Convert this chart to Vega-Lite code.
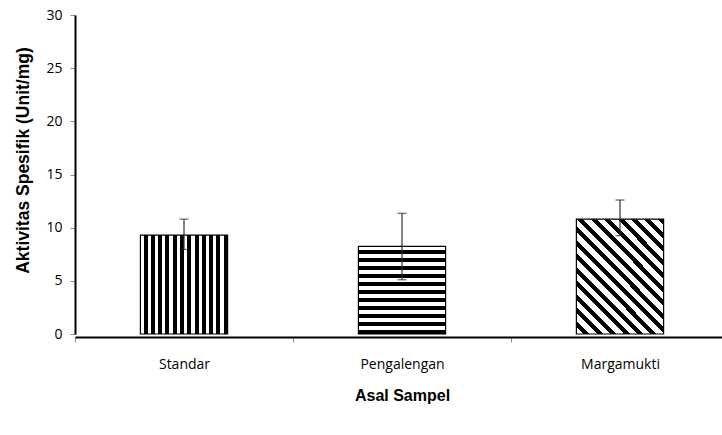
{
  "$schema": "https://vega.github.io/schema/vega-lite/v6.json",
  "width": 647,
  "height": 319,
  "autosize": "none",
  "padding": {"left": 75, "top": 15, "right": 0, "bottom": 101},
  "background": "white",
  "config": {"view": {"stroke": null}},
  "data": {
    "values": [
      {"Asal": "Standar", "mean": 9.3, "low": 7.95, "high": 10.8},
      {"Asal": "Pengalengan", "mean": 8.25, "low": 5.1, "high": 11.35},
      {"Asal": "Margamukti", "mean": 10.8, "low": 9.25, "high": 12.6}
    ]
  },
  "encoding": {
    "x": {
      "field": "Asal",
      "type": "nominal",
      "sort": null,
      "scale": {"range": [0, 654], "paddingInner": 0, "paddingOuter": 0},
      "axis": {
        "title": "Asal Sampel",
        "titleFont": "Liberation Sans",
        "titleFontSize": 16,
        "titleFontWeight": "bold",
        "titleColor": "black",
        "titlePadding": 16,
        "labelFont": "Open Sans",
        "labelFontSize": 14,
        "labelColor": "black",
        "labelAngle": 0,
        "labelPadding": 15,
        "domainColor": "black",
        "domainWidth": 2,
        "offset": 3,
        "tickBand": "extent",
        "tickColor": "#909090",
        "tickSize": 5,
        "tickWidth": 1
      }
    }
  },
  "layer": [
    {
      "mark": {"type": "rule", "color": "#a0a0a0", "strokeWidth": 1},
      "encoding": {"y": {"datum": 0, "type": "quantitative"}}
    },
    {
      "mark": {"type": "bar", "width": {"band": 0.4}, "stroke": "black", "strokeWidth": 1.2},
      "encoding": {
        "y": {
          "field": "mean",
          "type": "quantitative",
          "title": "Aktivitas Spesifik (Unit/mg)",
          "scale": {"domain": [0, 30]},
          "axis": {
            "titleFont": "Liberation Sans",
            "titleFontSize": 17.5,
            "titleFontWeight": "bold",
            "titleColor": "black",
            "titleX": -52,
            "titleY": 145,
            "titleAngle": -90,
            "titleAlign": "center",
            "titleBaseline": "middle",
            "values": [0, 5, 10, 15, 20, 25, 30],
            "labelFont": "Open Sans",
            "labelFontSize": 14,
            "labelColor": "black",
            "labelPadding": 8,
            "grid": false,
            "domainColor": "black",
            "domainWidth": 2,
            "tickColor": "#909090",
            "tickSize": 5,
            "tickWidth": 1
          }
        },
        "fill": {
          "condition": [
            {
              "test": "datum.Asal === 'Standar'",
              "value": {
                "gradient": "linear", "x1": 0, "y1": 0, "x2": 1, "y2": 0,
                "stops": [
                  {"offset": 0, "color": "white"}, {"offset": 0.0375, "color": "white"}, {"offset": 0.0375, "color": "black"}, {"offset": 0.08333, "color": "black"},
                  {"offset": 0.08333, "color": "white"}, {"offset": 0.12083, "color": "white"}, {"offset": 0.12083, "color": "black"}, {"offset": 0.16667, "color": "black"},
                  {"offset": 0.16667, "color": "white"}, {"offset": 0.20417, "color": "white"}, {"offset": 0.20417, "color": "black"}, {"offset": 0.25, "color": "black"},
                  {"offset": 0.25, "color": "white"}, {"offset": 0.2875, "color": "white"}, {"offset": 0.2875, "color": "black"}, {"offset": 0.33333, "color": "black"},
                  {"offset": 0.33333, "color": "white"}, {"offset": 0.37083, "color": "white"}, {"offset": 0.37083, "color": "black"}, {"offset": 0.41667, "color": "black"},
                  {"offset": 0.41667, "color": "white"}, {"offset": 0.45417, "color": "white"}, {"offset": 0.45417, "color": "black"}, {"offset": 0.5, "color": "black"},
                  {"offset": 0.5, "color": "white"}, {"offset": 0.5375, "color": "white"}, {"offset": 0.5375, "color": "black"}, {"offset": 0.58333, "color": "black"},
                  {"offset": 0.58333, "color": "white"}, {"offset": 0.62083, "color": "white"}, {"offset": 0.62083, "color": "black"}, {"offset": 0.66667, "color": "black"},
                  {"offset": 0.66667, "color": "white"}, {"offset": 0.70417, "color": "white"}, {"offset": 0.70417, "color": "black"}, {"offset": 0.75, "color": "black"},
                  {"offset": 0.75, "color": "white"}, {"offset": 0.7875, "color": "white"}, {"offset": 0.7875, "color": "black"}, {"offset": 0.83333, "color": "black"},
                  {"offset": 0.83333, "color": "white"}, {"offset": 0.87083, "color": "white"}, {"offset": 0.87083, "color": "black"}, {"offset": 0.91667, "color": "black"},
                  {"offset": 0.91667, "color": "white"}, {"offset": 0.95417, "color": "white"}, {"offset": 0.95417, "color": "black"}, {"offset": 1, "color": "black"}
                ]
              }
            },
            {
              "test": "datum.Asal === 'Pengalengan'",
              "value": {
                "gradient": "linear", "x1": 0, "y1": 0, "x2": 0, "y2": 1,
                "stops": [
                  {"offset": 0, "color": "white"}, {"offset": 0.04545, "color": "white"}, {"offset": 0.04545, "color": "black"}, {"offset": 0.09091, "color": "black"},
                  {"offset": 0.09091, "color": "white"}, {"offset": 0.13636, "color": "white"}, {"offset": 0.13636, "color": "black"}, {"offset": 0.18182, "color": "black"},
                  {"offset": 0.18182, "color": "white"}, {"offset": 0.22727, "color": "white"}, {"offset": 0.22727, "color": "black"}, {"offset": 0.27273, "color": "black"},
                  {"offset": 0.27273, "color": "white"}, {"offset": 0.31818, "color": "white"}, {"offset": 0.31818, "color": "black"}, {"offset": 0.36364, "color": "black"},
                  {"offset": 0.36364, "color": "white"}, {"offset": 0.40909, "color": "white"}, {"offset": 0.40909, "color": "black"}, {"offset": 0.45455, "color": "black"},
                  {"offset": 0.45455, "color": "white"}, {"offset": 0.5, "color": "white"}, {"offset": 0.5, "color": "black"}, {"offset": 0.54545, "color": "black"},
                  {"offset": 0.54545, "color": "white"}, {"offset": 0.59091, "color": "white"}, {"offset": 0.59091, "color": "black"}, {"offset": 0.63636, "color": "black"},
                  {"offset": 0.63636, "color": "white"}, {"offset": 0.68182, "color": "white"}, {"offset": 0.68182, "color": "black"}, {"offset": 0.72727, "color": "black"},
                  {"offset": 0.72727, "color": "white"}, {"offset": 0.77273, "color": "white"}, {"offset": 0.77273, "color": "black"}, {"offset": 0.81818, "color": "black"},
                  {"offset": 0.81818, "color": "white"}, {"offset": 0.86364, "color": "white"}, {"offset": 0.86364, "color": "black"}, {"offset": 0.90909, "color": "black"},
                  {"offset": 0.90909, "color": "white"}, {"offset": 0.95455, "color": "white"}, {"offset": 0.95455, "color": "black"}, {"offset": 1, "color": "black"}
                ]
              }
            }
          ],
          "value": {
            "gradient": "linear", "x1": 0, "y1": 1, "x2": 0.852, "y2": -0.113,
            "stops": [
              {"offset": 0, "color": "white"}, {"offset": 0.03667, "color": "white"}, {"offset": 0.03667, "color": "black"}, {"offset": 0.06667, "color": "black"},
              {"offset": 0.06667, "color": "white"}, {"offset": 0.10333, "color": "white"}, {"offset": 0.10333, "color": "black"}, {"offset": 0.13333, "color": "black"},
              {"offset": 0.13333, "color": "white"}, {"offset": 0.17, "color": "white"}, {"offset": 0.17, "color": "black"}, {"offset": 0.2, "color": "black"},
              {"offset": 0.2, "color": "white"}, {"offset": 0.23667, "color": "white"}, {"offset": 0.23667, "color": "black"}, {"offset": 0.26667, "color": "black"},
              {"offset": 0.26667, "color": "white"}, {"offset": 0.30333, "color": "white"}, {"offset": 0.30333, "color": "black"}, {"offset": 0.33333, "color": "black"},
              {"offset": 0.33333, "color": "white"}, {"offset": 0.37, "color": "white"}, {"offset": 0.37, "color": "black"}, {"offset": 0.4, "color": "black"},
              {"offset": 0.4, "color": "white"}, {"offset": 0.43667, "color": "white"}, {"offset": 0.43667, "color": "black"}, {"offset": 0.46667, "color": "black"},
              {"offset": 0.46667, "color": "white"}, {"offset": 0.50333, "color": "white"}, {"offset": 0.50333, "color": "black"}, {"offset": 0.53333, "color": "black"},
              {"offset": 0.53333, "color": "white"}, {"offset": 0.57, "color": "white"}, {"offset": 0.57, "color": "black"}, {"offset": 0.6, "color": "black"},
              {"offset": 0.6, "color": "white"}, {"offset": 0.63667, "color": "white"}, {"offset": 0.63667, "color": "black"}, {"offset": 0.66667, "color": "black"},
              {"offset": 0.66667, "color": "white"}, {"offset": 0.70333, "color": "white"}, {"offset": 0.70333, "color": "black"}, {"offset": 0.73333, "color": "black"},
              {"offset": 0.73333, "color": "white"}, {"offset": 0.77, "color": "white"}, {"offset": 0.77, "color": "black"}, {"offset": 0.8, "color": "black"},
              {"offset": 0.8, "color": "white"}, {"offset": 0.83667, "color": "white"}, {"offset": 0.83667, "color": "black"}, {"offset": 0.86667, "color": "black"},
              {"offset": 0.86667, "color": "white"}, {"offset": 0.90333, "color": "white"}, {"offset": 0.90333, "color": "black"}, {"offset": 0.93333, "color": "black"},
              {"offset": 0.93333, "color": "white"}, {"offset": 0.97, "color": "white"}, {"offset": 0.97, "color": "black"}, {"offset": 1, "color": "black"}
            ]
          }
        }
      }
    },
    {
      "mark": {
        "type": "errorbar",
        "color": "#303030",
        "thickness": 1.2,
        "ticks": {"size": 9, "color": "#202020"}
      },
      "encoding": {
        "y": {"field": "low", "type": "quantitative", "title": "Aktivitas Spesifik (Unit/mg)"},
        "y2": {"field": "high"}
      }
    }
  ]
}
